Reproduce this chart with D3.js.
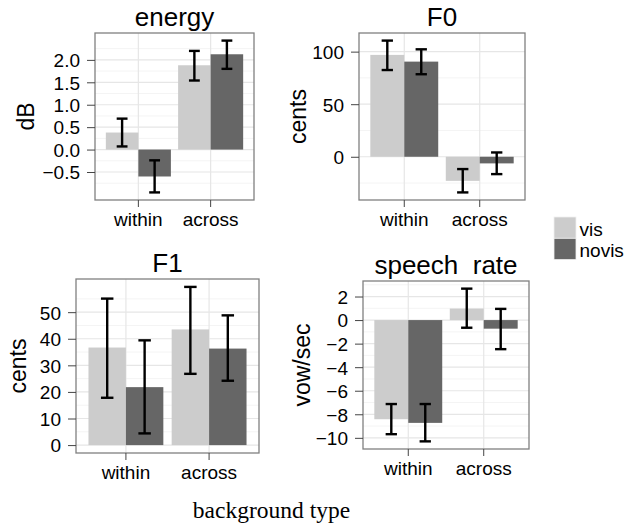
<!DOCTYPE html>
<html>
<head>
<meta charset="utf-8">
<script src="https://cdn.jsdelivr.net/npm/d3@7"></script>
<style>
  body { margin: 0; background: #fff; }
  text { font-family: "Liberation Sans", Arial, Helvetica, sans-serif; fill: #000; }
</style>
</head>
<body>
<div id="chart"></div>
<script>
/* DATA */
const categories = ["within", "across"];
const conditions = ["vis", "novis"];
const fills = ["#cccccc", "#666666"];

// bg, cond, mean, lower, upper
const energyData = [
  { bg: "within", cond: "vis", mean: 0.38, lo: 0.07, hi: 0.69 },
  { bg: "within", cond: "novis", mean: -0.60, lo: -0.955, hi: -0.24 },
  { bg: "across", cond: "vis", mean: 1.88, lo: 1.54, hi: 2.20 },
  { bg: "across", cond: "novis", mean: 2.125, lo: 1.80, hi: 2.43 }
];
const f0Data = [
  { bg: "within", cond: "vis", mean: 96.9, lo: 82.5, hi: 110.5 },
  { bg: "within", cond: "novis", mean: 90.5, lo: 78.5, hi: 102.2 },
  { bg: "across", cond: "vis", mean: -22.9, lo: -33.9, hi: -11.7 },
  { bg: "across", cond: "novis", mean: -6.3, lo: -16.5, hi: 4.1 }
];
const f1Data = [
  { bg: "within", cond: "vis", mean: 36.7, lo: 17.8, hi: 55.1 },
  { bg: "within", cond: "novis", mean: 21.8, lo: 4.4, hi: 39.4 },
  { bg: "across", cond: "vis", mean: 43.5, lo: 26.8, hi: 59.5 },
  { bg: "across", cond: "novis", mean: 36.3, lo: 24.2, hi: 48.8 }
];
const rateData = [
  { bg: "within", cond: "vis", mean: -8.42, lo: -9.69, hi: -7.13 },
  { bg: "within", cond: "novis", mean: -8.73, lo: -10.3, hi: -7.13 },
  { bg: "across", cond: "vis", mean: 0.98, lo: -0.65, hi: 2.67 },
  { bg: "across", cond: "novis", mean: -0.73, lo: -2.47, hi: 0.95 }
];

const energyTicks = [-0.5, 0, 0.5, 1.0, 1.5, 2.0];
const f0Ticks = [0, 50, 100];
const f1Ticks = [0, 10, 20, 30, 40, 50];
const rateTicks = [-10, -8, -6, -4, -2, 0, 2];

/* LAYOUT */
const width = 641, height = 526;

const svg = d3.select("#chart")
  .append("svg")
  .attr("width", width)
  .attr("height", height);

const panels = [
  { title: "energy", ylab: "dB", data: energyData, ticks: energyTicks, fmt: d3.format(".1f"),
    left: 95, right: 254, top: 33, bottom: 200, labX: 26 },
  { title: "F0", ylab: "cents", data: f0Data, ticks: f0Ticks, fmt: d3.format("d"),
    left: 359, right: 525, top: 33, bottom: 200, labX: 298 },
  { title: "F1", ylab: "cents", data: f1Data, ticks: f1Ticks, fmt: d3.format("d"),
    left: 76, right: 259, top: 279, bottom: 453, labX: 18 },
  { title: "speech  rate", ylab: "vow/sec", data: rateData, ticks: rateTicks, fmt: d3.format("d"),
    left: 363, right: 529, top: 281, bottom: 449, labX: 302 }
];

panels.forEach(p => {
  const g = svg.append("g");

  // x: discrete scale, 0.6 expansion each side
  const x = d3.scaleBand()
    .domain(categories)
    .range([p.left, p.right])
    .paddingInner(0)
    .paddingOuter(0.1);
  const step = x.bandwidth();
  const x1 = d3.scaleBand()
    .domain(conditions)
    .range([0, step * 0.9]);

  // y: 5% expansion of data range incl. zero
  const vals = p.data.flatMap(d => [d.mean, d.lo, d.hi, 0]);
  const [mn, mx] = d3.extent(vals);
  const pad = (mx - mn) * 0.05;
  const y = d3.scaleLinear()
    .domain([mn - pad, mx + pad])
    .range([p.bottom, p.top]);

  // minor breaks between majors
  const tStep = p.ticks[1] - p.ticks[0];
  const minor = d3.range(p.ticks[0] - tStep / 2, p.ticks[p.ticks.length - 1] + tStep, tStep)
    .filter(v => v >= y.domain()[0] && v <= y.domain()[1]);

  g.selectAll("line.minor")
    .data(minor)
    .join("line")
    .attr("class", "minor")
    .attr("x1", p.left).attr("x2", p.right)
    .attr("y1", d => y(d)).attr("y2", d => y(d))
    .attr("stroke", "#f4f4f4")
    .attr("stroke-width", 1);

  g.selectAll("line.major")
    .data(p.ticks)
    .join("line")
    .attr("class", "major")
    .attr("x1", p.left).attr("x2", p.right)
    .attr("y1", d => y(d)).attr("y2", d => y(d))
    .attr("stroke", "#e6e6e6")
    .attr("stroke-width", 1.2);

  g.selectAll("line.vgrid")
    .data(categories)
    .join("line")
    .attr("class", "vgrid")
    .attr("x1", d => x(d) + step / 2).attr("x2", d => x(d) + step / 2)
    .attr("y1", p.top).attr("y2", p.bottom)
    .attr("stroke", "#e6e6e6")
    .attr("stroke-width", 1.2);

  // bars
  g.selectAll("rect.bar")
    .data(p.data)
    .join("rect")
    .attr("class", "bar")
    .attr("x", d => x(d.bg) + step * 0.05 + x1(d.cond))
    .attr("width", x1.bandwidth())
    .attr("y", d => Math.min(y(0), y(d.mean)))
    .attr("height", d => Math.abs(y(0) - y(d.mean)))
    .attr("fill", d => fills[conditions.indexOf(d.cond)]);

  // error bars
  const cx = d => x(d.bg) + step * 0.05 + x1(d.cond) + x1.bandwidth() / 2;
  const capW = step * 0.15;
  const eb = g.selectAll("g.err")
    .data(p.data)
    .join("g")
    .attr("class", "err")
    .attr("stroke", "#000")
    .attr("stroke-width", 2.4);
  eb.append("line")
    .attr("x1", cx).attr("x2", cx)
    .attr("y1", d => y(d.lo)).attr("y2", d => y(d.hi));
  eb.append("line")
    .attr("x1", d => cx(d) - capW / 2).attr("x2", d => cx(d) + capW / 2)
    .attr("y1", d => y(d.lo)).attr("y2", d => y(d.lo));
  eb.append("line")
    .attr("x1", d => cx(d) - capW / 2).attr("x2", d => cx(d) + capW / 2)
    .attr("y1", d => y(d.hi)).attr("y2", d => y(d.hi));

  // panel border
  g.append("rect")
    .attr("x", p.left).attr("y", p.top)
    .attr("width", p.right - p.left).attr("height", p.bottom - p.top)
    .attr("fill", "none")
    .attr("stroke", "#808080")
    .attr("stroke-width", 1.3);

  // axes
  const yAxis = g.append("g")
    .attr("transform", `translate(${p.left},0)`)
    .call(d3.axisLeft(y).tickValues(p.ticks).tickFormat(p.fmt).tickSize(8).tickPadding(7));
  yAxis.select(".domain").remove();
  yAxis.selectAll(".tick line").attr("stroke", "#444");
  yAxis.selectAll(".tick text").style("font-size", "19px").attr("dy", "0.36em");

  const xAxis = g.append("g")
    .attr("transform", `translate(0,${p.bottom})`)
    .call(d3.axisBottom(x).tickSize(7).tickPadding(6));
  xAxis.select(".domain").remove();
  xAxis.selectAll(".tick line").attr("stroke", "#444");
  xAxis.selectAll(".tick text").style("font-size", "19px");

  // title
  g.append("text")
    .attr("x", (p.left + p.right) / 2)
    .attr("y", p.top - 7)
    .attr("text-anchor", "middle")
    .style("font-size", "26px")
    .style("white-space", "pre")
    .text(p.title);

  // y label
  g.append("text")
    .attr("transform", `translate(${p.labX},${(p.top + p.bottom) / 2}) rotate(-90)`)
    .attr("text-anchor", "middle")
    .attr("dy", "0.35em")
    .style("font-size", "23px")
    .text(p.ylab);
});

// LEGEND
const legend = svg.append("g")
  .attr("transform", "translate(554,217)");

const legendItems = legend.selectAll("g.item")
  .data(conditions)
  .join("g")
  .attr("class", "item")
  .attr("transform", (d, i) => `translate(0,${i * 21.3})`);

legendItems.append("rect")
  .attr("width", 22)
  .attr("height", 21.3)
  .attr("fill", (d, i) => fills[i])
  .attr("stroke", "#f0f0f0")
  .attr("stroke-width", 0.8);

legendItems.append("text")
  .attr("x", 25.5)
  .attr("y", 18.5)
  .style("font-size", "19px")
  .text(d => d);

// x title
svg.append("text")
  .attr("x", 271.5)
  .attr("y", 518)
  .attr("text-anchor", "middle")
  .style("font-family", "'Liberation Serif', 'Times New Roman', serif")
  .style("font-size", "23.5px")
  .text("background type");
</script>
</body>
</html>
